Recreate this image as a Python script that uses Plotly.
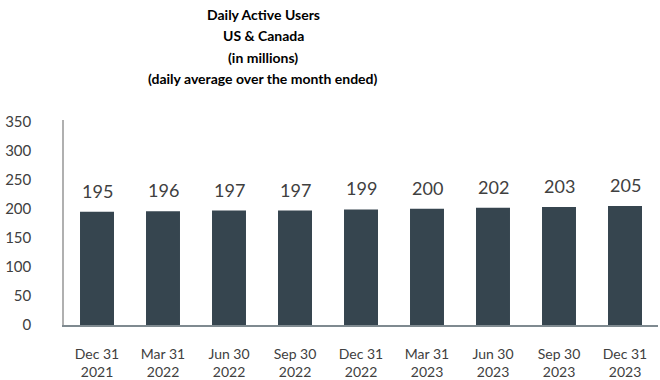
import plotly.graph_objects as go

categories = ["Dec 31<br>2021", "Mar 31<br>2022", "Jun 30<br>2022", "Sep 30<br>2022",
              "Dec 31<br>2022", "Mar 31<br>2023", "Jun 30<br>2023", "Sep 30<br>2023",
              "Dec 31<br>2023"]
values = [195, 196, 197, 197, 199, 200, 202, 203, 205]
title_lines = ["Daily Active Users", "US & Canada", "(in millions)",
               "(daily average over the month ended)"]
y_ticks = [0, 50, 100, 150, 200, 250, 300, 350]

FONT = "Lato, Calibri, sans-serif"
fig = go.Figure()
fig.add_trace(go.Bar(x=categories, y=values, marker=dict(color="#36454F", line=dict(width=0)),
                     hoverinfo="skip"))

W, H = 660, 380
L, R, T, B = 64, 2, 120, 55
pw, ph = W - L - R, H - T - B

annotations = []
for c, v in zip(categories, values):
    annotations.append(dict(x=c, y=v, text=str(v), showarrow=False, xref="x", yref="y",
                            yanchor="bottom", yshift=8,
                            font=dict(family=FONT, size=18, color="#404040")))
for i, t in enumerate(title_lines):
    px, py = 263, 14.5 + i * 21.3
    annotations.append(dict(x=(px - L) / pw, y=(H - py - B) / ph, xref="paper", yref="paper",
                            text="<b>" + t + "</b>", showarrow=False,
                            xanchor="center", yanchor="middle",
                            font=dict(family=FONT, size=14, color="#000000")))

fig.update_layout(
    width=W, height=H,
    margin=dict(l=L, r=R, t=T, b=B, pad=0, autoexpand=False),
    paper_bgcolor="white", plot_bgcolor="white",
    bargap=0.485,
    showlegend=False,
    annotations=annotations,
    font=dict(family=FONT, color="#404040"),
    xaxis=dict(showgrid=False, showline=True, linecolor="#7F8A90", linewidth=2,
               automargin=False,
               tickfont=dict(family=FONT, size=14, color="#404040"),
               ticks="outside", ticklen=15, tickcolor="rgba(0,0,0,0)", zeroline=False),
    yaxis=dict(range=[0, 353], tickvals=y_ticks, showgrid=False, showline=True,
               automargin=False,
               linecolor="#B0B0B0", linewidth=1.5, zeroline=False,
               ticks="outside", ticklen=28, tickcolor="rgba(0,0,0,0)",
               tickfont=dict(family=FONT, size=15, color="#404040")),
)
fig.write_html("out.html", config={"displayModeBar": False},
               post_script="document.body.style.margin='0';document.body.style.overflow='hidden';")
